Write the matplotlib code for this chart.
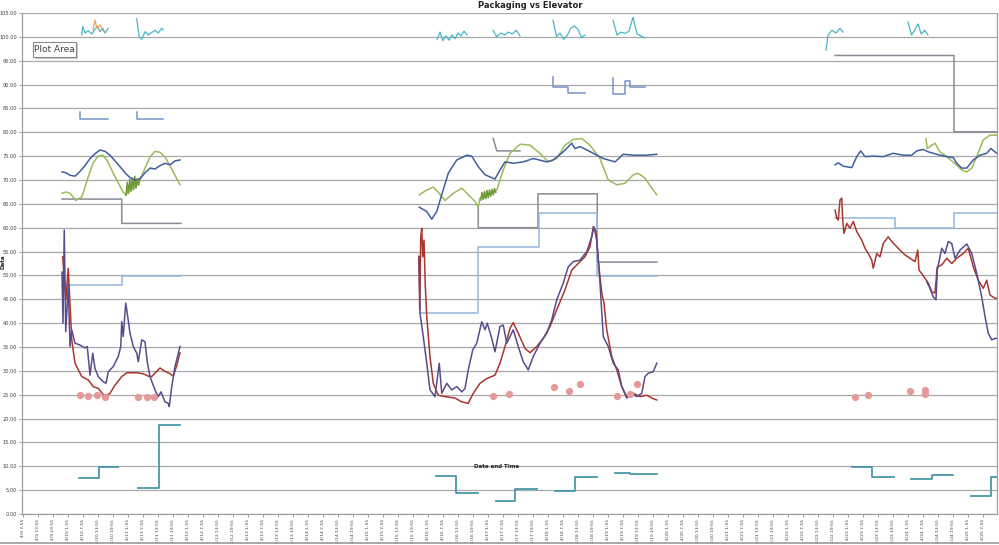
import matplotlib
matplotlib.use('Agg')
import matplotlib.pyplot as plt
import numpy as np
from datetime import datetime, timedelta

nan = np.nan

# ---------------- axis data ----------------
start_time = datetime(2015, 4, 9, 7, 55)
tick_hours = list(range(0, 385, 6))
tick_labels = [f"{(start_time + timedelta(hours=h)).month}/{(start_time + timedelta(hours=h)).day} "
               f"{(start_time + timedelta(hours=h)).hour}:{(start_time + timedelta(hours=h)).minute:02d}"
               for h in tick_hours]
y_ticks = list(range(0, 106, 5))
y_tick_labels = [f"{v:.2f}" for v in y_ticks]

# ---------------- series (x = hours since 4/9 7:55) ----------------
blue_x = [15.7, 17.3, 18.9, 20.9, 22.9, 24.9, 26.9, 28.9, 30.9, 32.9, 34.9, 36.9, 38.9, 40.9, 42.9, 44.9, 46.9,
          48.9, 50.9, 52.9, 54.9, 56.9, 58.9, 60.9, 62.9, nan,
          158.6, 161.6, 163.6, 165.6, 167.6, 170.2, 173.6, 177.6, 179.6, 182.2, 184.9, 188.9, 190.9, 192.9, 196.2,
          200.2, 204.2, 209.6, 212.2, 216.2, 219.6, 220.9, 222.9, 225.6, 228.2, 232.2, 236.9, 240.2, 244.2, 249.6,
          253.6, nan,
          324.9, 326.2, 328.2, 331.6, 333.6, 335.2, 336.9, 340.2, 344.2, 348.2, 352.2, 355.6, 357.6, 360.2, 362.2,
          364.2, 366.9, 369.6, 372.2, 373.6, 375.6, 377.6, 380.2, 382.9, 385.6, 387.2, 388.9, 389.6]
blue_y = [71.7, 71.5, 71.0, 70.8, 71.8, 73.0, 74.5, 75.5, 76.3, 76.0, 75.2, 74.0, 72.8, 71.5, 70.5, 70.0, 70.3,
          71.5, 72.5, 72.3, 73.0, 73.5, 73.2, 74.0, 74.2, nan,
          64.3, 63.4, 61.8, 63.4, 66.9, 71.4, 74.2, 75.2, 75.0, 72.8, 71.1, 70.2, 72.1, 73.8, 73.5,
          73.8, 74.5, 73.8, 74.2, 75.9, 77.7, 76.6, 77.0, 76.3, 75.6, 74.5, 73.8, 75.4, 75.2, 75.2,
          75.4, nan,
          73.2, 73.6, 72.9, 72.6, 74.9, 76.1, 74.9, 75.0, 74.9, 75.6, 75.2, 75.2, 76.1, 76.4, 75.9,
          75.6, 75.2, 74.9, 74.7, 73.5, 72.5, 72.5, 74.2, 75.2, 75.6, 76.6, 75.9, 75.6]

green_x = [15.7, 17.3, 18.9, 21.3, 23.7, 26.1, 28.1, 30.1, 32.1, 34.1, 36.1, 38.1, 40.1, 41.3, 42.9, 44.9, 46.9,
           48.9, 50.9, 52.9, 54.9, 56.9, 58.9, 60.9, 62.9, nan,
           158.6, 161.6, 164.2, 166.6, 168.9, 172.2, 175.6, 178.2, 180.9, 182.2, 182.9, 185.6, 189.6, 192.2, 194.9,
           198.9, 202.9, 206.9, 210.2, 213.6, 216.9, 220.2, 223.6, 226.9, 230.9, 234.2, 237.6, 240.9, 244.2, 246.2,
           248.9, 251.6, 253.6, nan,
           361.3, 361.8, 363.6, 364.9, 366.9, 369.6, 372.9, 375.6, 377.6, 379.6, 381.6, 384.2, 386.9, 389.6]
green_y = [67.2, 67.5, 67.2, 65.7, 66.5, 70.5, 73.5, 75.0, 75.2, 73.8, 71.5, 69.5, 67.5, 66.9, 68.0, 68.5, 70.0,
           72.5, 74.8, 76.0, 75.8, 74.8, 73.0, 71.0, 69.0, nan,
           66.9, 67.9, 68.5, 67.2, 65.7, 67.2, 68.3, 66.9, 65.5, 64.4, 66.2, 66.5, 67.9, 72.1, 75.6,
           77.5, 77.3, 75.6, 73.8, 74.5, 77.3, 78.5, 78.7, 77.3, 74.5, 70.0, 69.0, 69.3, 71.1, 71.4,
           70.4, 68.3, 66.9, nan,
           78.7, 76.6, 77.3, 77.7, 75.9, 74.9, 73.4, 72.1, 71.7, 72.5, 74.9, 78.4, 79.4, 79.4]

green_dark_x = [41.3, 41.8, 42.3, 42.8, 43.3, 43.8, 44.3, 44.8, 45.3, 45.8, 46.3, 46.8, nan,
                183.2, 183.7, 184.2, 184.7, 185.2, 185.7, 186.2, 186.7, 187.2, 187.7, 188.2, 188.7, 189.2]
green_dark_y = [66.8, 69.5, 67.2, 70.1, 67.6, 70.4, 68.0, 70.8, 68.3, 70.2, 68.9, 70.0, nan,
                65.8, 67.4, 65.9, 67.6, 66.1, 67.8, 66.3, 67.9, 66.6, 68.0, 66.9, 68.2, 67.4]

red_x = [16.0, 16.5, 17.3, 18.2, 19.6, 20.9, 23.6, 26.2, 28.2, 30.2, 32.9, 34.9, 36.9, 39.6, 41.6, 45.6, 48.2,
         50.2, 51.6, 53.6, 54.9, 56.9, 58.9, 60.2, 61.6, 62.9, nan,
         158.4, 158.8, 159.2, 159.6, 160.0, 160.5, 161.0, 161.6, 162.9, 164.2, 166.2, 168.9, 172.9, 175.6, 178.2,
         180.2, 182.9, 185.6, 188.9, 190.9, 192.9, 194.9, 196.2, 198.2, 200.9, 202.9, 205.6, 208.2, 210.9, 213.6,
         216.9, 219.6, 222.9, 224.9, 226.9, 228.2, 229.3, 230.6, 231.6, 232.5, 233.6, 235.6, 237.6, 239.6, 241.6,
         244.2, 246.9, 249.6, 251.6, 253.6, nan,
         324.9, 325.6, 326.2, 326.9, 327.6, 328.0, 328.5, 329.6, 330.9, 332.2, 333.6, 335.6, 336.9, 338.2, 339.6,
         340.2, 341.6, 342.9, 344.2, 346.2, 347.6, 348.9, 350.9, 352.9, 354.9, 356.9, 358.0, 358.5, 359.6, 360.9,
         362.2, 363.6, 364.9, 365.8, 367.6, 369.6, 371.6, 373.6, 376.2, 378.2, 380.2, 382.2, 384.2, 385.6, 386.9,
         388.9, 389.6]
red_y = [53.9, 50.0, 45.0, 51.5, 36.5, 31.6, 28.8, 28.1, 26.7, 26.3, 24.6, 25.3, 27.0, 28.8, 29.6, 29.6, 29.4,
         28.9, 28.8, 29.9, 30.6, 29.9, 29.4, 28.9, 31.1, 33.8, nan,
         54.0, 42.8, 58.0, 59.9, 53.9, 57.4, 48.0, 41.4, 33.0, 27.4, 24.9, 24.6, 24.3, 23.5, 23.2,
         25.3, 27.4, 28.4, 29.1, 31.6, 35.1, 38.9, 40.1, 37.9, 34.7, 33.8, 35.1, 36.8, 39.3, 42.8,
         47.0, 51.1, 52.9, 53.9, 56.0, 60.2, 59.2, 51.1, 46.3, 44.2, 38.6, 33.0, 30.2, 26.7, 24.6,
         25.3, 24.6, 24.9, 24.3, 23.9, nan,
         63.7, 62.0, 61.6, 65.8, 66.2, 61.6, 58.8, 60.9, 59.9, 61.3, 59.2, 57.4, 55.7, 54.6, 53.2,
         51.5, 54.6, 53.9, 56.7, 58.1, 57.1, 56.4, 55.3, 54.3, 53.6, 52.9, 55.3, 51.1, 50.4, 49.4,
         48.4, 46.6, 46.3, 51.8, 52.2, 53.6, 52.5, 53.6, 54.6, 55.7, 51.8, 49.0, 47.3, 49.0, 45.9,
         45.2, 45.2]

purple_x = [15.7, 16.1, 16.6, 17.2, 18.2, 18.9, 19.6, 20.9, 22.9, 24.9, 25.8, 26.9, 28.0, 28.9, 30.2, 32.2,
            33.3, 34.2, 36.2, 38.2, 39.2, 39.6, 40.2, 41.2, 41.8, 42.9, 44.2, 45.6, 46.2, 47.6, 48.9, 49.8,
            50.9, 52.9, 54.2, 55.3, 56.9, 58.2, 58.6, 59.6, 60.9, 62.9, nan,
            158.6, 158.9, 160.2, 161.6, 162.9, 164.9, 166.6, 167.6, 169.6, 171.6, 173.6, 175.6, 176.9, 178.2,
            180.0, 181.6, 183.6, 184.9, 185.8, 187.6, 188.9, 190.9, 192.2, 193.6, 196.2, 198.2, 200.2, 202.2,
            204.2, 206.9, 209.6, 211.6, 213.6, 216.2, 218.2, 220.2, 222.9, 225.6, 227.6, 228.5, 229.6, 230.9,
            232.2, 234.2, 236.2, 238.2, 239.6, 241.6, 243.6, 245.6, 247.6, 248.9, 250.2, 252.2, 253.6, nan,
            361.6, 362.9, 364.2, 365.3, 365.8, 367.6, 368.9, 370.2, 371.6, 372.9, 374.9, 377.6, 379.6, 381.6,
            383.6, 384.9, 386.2, 387.6, 388.9, 389.6]
purple_y = [50.7, 40.0, 59.5, 38.2, 48.0, 35.1, 38.6, 35.8, 35.4, 34.8, 35.1, 29.1, 33.7, 30.5, 28.8, 27.7,
            27.4, 29.8, 30.9, 33.0, 35.1, 40.3, 37.2, 44.2, 42.1, 37.9, 35.1, 33.7, 31.9, 36.5, 36.1, 31.9,
            28.8, 26.0, 24.6, 25.6, 23.5, 23.2, 22.5, 26.7, 30.9, 35.1, nan,
            53.9, 42.1, 37.2, 31.6, 26.0, 24.6, 31.6, 25.3, 27.4, 26.0, 26.7, 25.6, 26.3, 30.2,
            34.4, 35.8, 40.3, 38.6, 40.0, 36.8, 34.0, 39.3, 39.6, 35.8, 38.6, 35.1, 31.9, 30.2,
            33.0, 35.8, 37.9, 40.7, 44.9, 48.4, 51.8, 52.9, 53.2, 55.0, 58.1, 60.2, 57.4, 48.4,
            37.2, 35.1, 31.6, 30.2, 26.7, 24.3, 25.3, 24.6, 25.3, 28.8, 29.5, 29.8, 31.6, nan,
            48.7, 47.3, 45.5, 44.9, 51.1, 55.7, 54.6, 57.1, 56.7, 53.6, 55.3, 56.6, 54.6, 50.4,
            45.5, 41.4, 37.9, 36.5, 36.8, 36.8]

dots_x = [22.9, 26.2, 29.6, 32.9, 46.2, 49.6, 52.5, 188.2, 194.6, 212.5, 218.5, 222.9, 237.8, 242.9, 245.8,
          332.9, 338.1, 354.9, 360.9, 360.9]
dots_y = [24.9, 24.7, 24.9, 24.5, 24.5, 24.5, 24.6, 24.8, 25.1, 26.7, 25.8, 27.2, 24.8, 25.1, 27.2,
          24.5, 24.9, 25.8, 26.0, 25.2]

# step-like setpoint lines (vertices)
gray_x = [15.7, 39.6, 39.6, 63.3, nan, 188.2, 189.6, 198.9, nan,
          182.2, 182.2, 206.1, 206.1, 229.8, 229.8, 253.6, nan, 324.9, 372.5, 372.5, 389.7]
gray_y = [66.0, 66.0, 60.9, 60.9, nan, 78.7, 76.1, 76.1, nan,
          64.8, 60.0, 60.0, 67.1, 67.1, 52.8, 52.8, nan, 96.1, 96.1, 80.1, 80.1]

lightblue_x = [15.7, 39.6, 39.6, 63.3, nan, 158.9, 182.2, 182.2, 206.7, 206.7, 229.8, 229.8, 253.6, nan,
               324.9, 348.9, 348.9, 372.5, 372.5, 389.7]
lightblue_y = [48.0, 48.0, 49.9, 49.9, nan, 42.1, 42.1, 56.0, 56.0, 63.1, 63.1, 49.9, 49.9, nan,
               62.0, 62.0, 60.0, 60.0, 63.0, 63.0]

teal_x = [22.5, 30.5, 30.5, 38.1, nan, 46.1, 54.5, 54.5, 62.9, nan,
          165.3, 173.3, 173.3, 182.1, nan, 189.3, 197.0, 197.0, 205.7, nan,
          212.9, 220.9, 220.9, 229.8, nan, 236.9, 243.0, 243.0, 253.6, nan,
          331.6, 339.8, 339.8, 348.5, nan, 355.2, 363.6, 363.6, 372.2, nan,
          379.2, 387.2, 387.2, 389.7]
teal_y = [7.5, 7.5, 9.9, 9.9, nan, 5.5, 5.5, 18.6, 18.6, nan,
          8.0, 8.0, 4.5, 4.5, nan, 2.7, 2.7, 5.2, 5.2, nan,
          4.8, 4.8, 7.7, 7.7, nan, 8.5, 8.5, 8.3, 8.3, nan,
          9.9, 9.9, 7.8, 7.8, nan, 7.3, 7.3, 8.2, 8.2, nan,
          3.8, 3.8, 7.7, 7.7]

topblue_x = [22.9, 22.9, 34.1, nan, 45.7, 45.7, 56.1, nan,
             212.1, 212.1, 218.1, 218.1, 224.9, nan, 236.1, 236.1, 241.1, 241.1, 243.1, 243.1, 248.9]
topblue_y = [84.3, 82.8, 82.8, nan, 84.3, 82.8, 82.8, nan,
             91.6, 89.4, 89.4, 88.2, 88.2, nan, 91.4, 88.0, 88.0, 90.8, 90.8, 89.5, 89.5]

cyan_x = [23.6, 24.0, 24.9, 26.2, 27.6, 28.9, 29.8, 30.9, 32.0, 32.9, 34.2, nan,
          45.6, 46.6, 47.6, 48.9, 50.2, 51.6, 52.9, 54.2, 55.6, 56.1, nan,
          165.7, 166.9, 168.1, 169.3, 170.5, 171.7, 172.9, 174.1, 175.3, 176.5, 177.7, nan,
          188.1, 189.6, 191.2, 192.7, 194.3, 195.8, 197.4, 198.9, nan,
          212.1, 213.5, 214.9, 216.4, 217.8, 219.2, 220.6, 222.1, 223.5, 224.9, nan,
          236.1, 237.7, 239.3, 240.9, 242.5, 244.1, 245.7, 247.3, 248.9, nan,
          321.3, 322.1, 323.7, 325.3, 326.9, 328.1, nan,
          354.1, 355.5, 356.8, 358.1, 359.4, 360.8, 362.1]
cyan_y = [100.4, 102.2, 100.8, 101.3, 100.6, 101.6, 102.2, 101.1, 101.8, 100.8, 101.8, nan,
          103.8, 100.0, 99.5, 101.1, 100.4, 100.9, 101.4, 100.8, 101.8, 101.5, nan,
          99.5, 101.0, 99.2, 100.2, 99.3, 100.4, 99.6, 100.8, 100.2, 101.2, 100.4, nan,
          101.4, 100.0, 100.8, 100.4, 101.0, 100.6, 101.4, 100.2, nan,
          103.5, 100.1, 100.8, 99.5, 100.3, 101.8, 102.3, 101.6, 99.8, 100.4, nan,
          103.5, 100.4, 101.0, 100.7, 101.2, 104.1, 100.6, 100.2, 99.8, nan,
          97.2, 100.4, 101.4, 100.8, 101.8, 101.0, nan,
          103.1, 100.4, 101.4, 102.7, 100.6, 101.4, 100.4]

orange_x = [28.1, 28.9, 29.7, 30.9, 32.1]
orange_y = [101.5, 103.5, 101.8, 102.5, 101.2]

# ---------------- figure ----------------
W, H = 999, 545
fig = plt.figure(figsize=(W / 100, H / 100), dpi=100)
ax = fig.add_axes([22 / W, (H - 514) / H, (997 - 22) / W, (514 - 13) / H])
ax.set_xlim(-0.3, 389.7)
ax.set_ylim(0, 105)

for v in y_ticks:
    ax.axhline(v, color='#a8a8a8', lw=0.9, zorder=0)

lw = 1.1
ax.plot(gray_x, gray_y, color='#8a8a96', lw=lw, zorder=2)
ax.plot(lightblue_x, lightblue_y, color='#93b7da', lw=lw, zorder=2)
ax.plot(topblue_x, topblue_y, color='#7492c8', lw=lw, zorder=2)
ax.plot(teal_x, teal_y, color='#4a97a8', lw=1.3, zorder=2)
ax.plot(cyan_x, cyan_y, color='#4bb5c6', lw=0.9, zorder=3)
ax.plot(orange_x, orange_y, color='#f0a060', lw=0.9, zorder=3)
ax.plot(green_x, green_y, color='#9bbb59', lw=lw, zorder=3)
ax.plot(green_dark_x, green_dark_y, color='#6f9a35', lw=lw, zorder=3)
ax.plot(blue_x, blue_y, color='#3f5f9e', lw=lw, zorder=4)
ax.plot(red_x, red_y, color='#a8372f', lw=lw, zorder=4)
ax.plot(purple_x, purple_y, color='#5b4a8c', lw=lw, zorder=5)
ax.plot(dots_x, dots_y, linestyle='none', marker='o', ms=4.2, color='#e39a98', mec='#e39a98', zorder=6)

ax.set_xticks(tick_hours)
ax.set_xticklabels(tick_labels, rotation=90, fontsize=3.2, color='#404040')
ax.set_yticks(y_ticks)
ax.set_yticklabels(y_tick_labels, fontsize=3.6, color='#404040')
ax.tick_params(axis='x', length=2, width=0.6, color='#909090', pad=1.5)
ax.tick_params(axis='y', length=2, width=0.6, color='#909090', pad=1.5)
for s in ['top']:
    ax.spines[s].set_visible(False)
for s in ['left', 'bottom', 'right']:
    ax.spines[s].set_color('#a0a0a0')
    ax.spines[s].set_linewidth(0.9)

fig.text(530 / W, 1 - 0.5 / H, 'Packaging vs Elevator', ha='center', va='top', fontsize=6,
         fontweight='bold', color='#222222')
fig.text(497 / W, 1 - 467 / H, 'Date and Time', ha='center', va='center', fontsize=4,
         fontweight='bold', color='#222222')
fig.text(3 / W, 1 - 262 / H, 'Data', ha='center', va='center', fontsize=4, rotation=90,
         fontweight='bold', color='#222222')

# "Plot Area" tooltip
fig.patches.append(plt.Rectangle((35 / W, 1 - 59 / H), 43 / W, 15 / H, transform=fig.transFigure,
                                 facecolor='#c8c8c8', edgecolor='none', zorder=9))
fig.patches.append(plt.Rectangle((33 / W, 1 - 57 / H), 43 / W, 15 / H, transform=fig.transFigure,
                                 facecolor='white', edgecolor='#8a8a8a', lw=0.8, zorder=10))
fig.text(54.5 / W, 1 - 49.5 / H, 'Plot Area', ha='center', va='center', fontsize=6.5, color='#444444',
         zorder=11)

# outer chart border (bottom)
fig.add_artist(plt.Line2D([0, 1], [1 - 543 / H, 1 - 543 / H], transform=fig.transFigure,
                          color='#9a9a9a', lw=1.2))

fig.savefig('out.png', dpi=100)
